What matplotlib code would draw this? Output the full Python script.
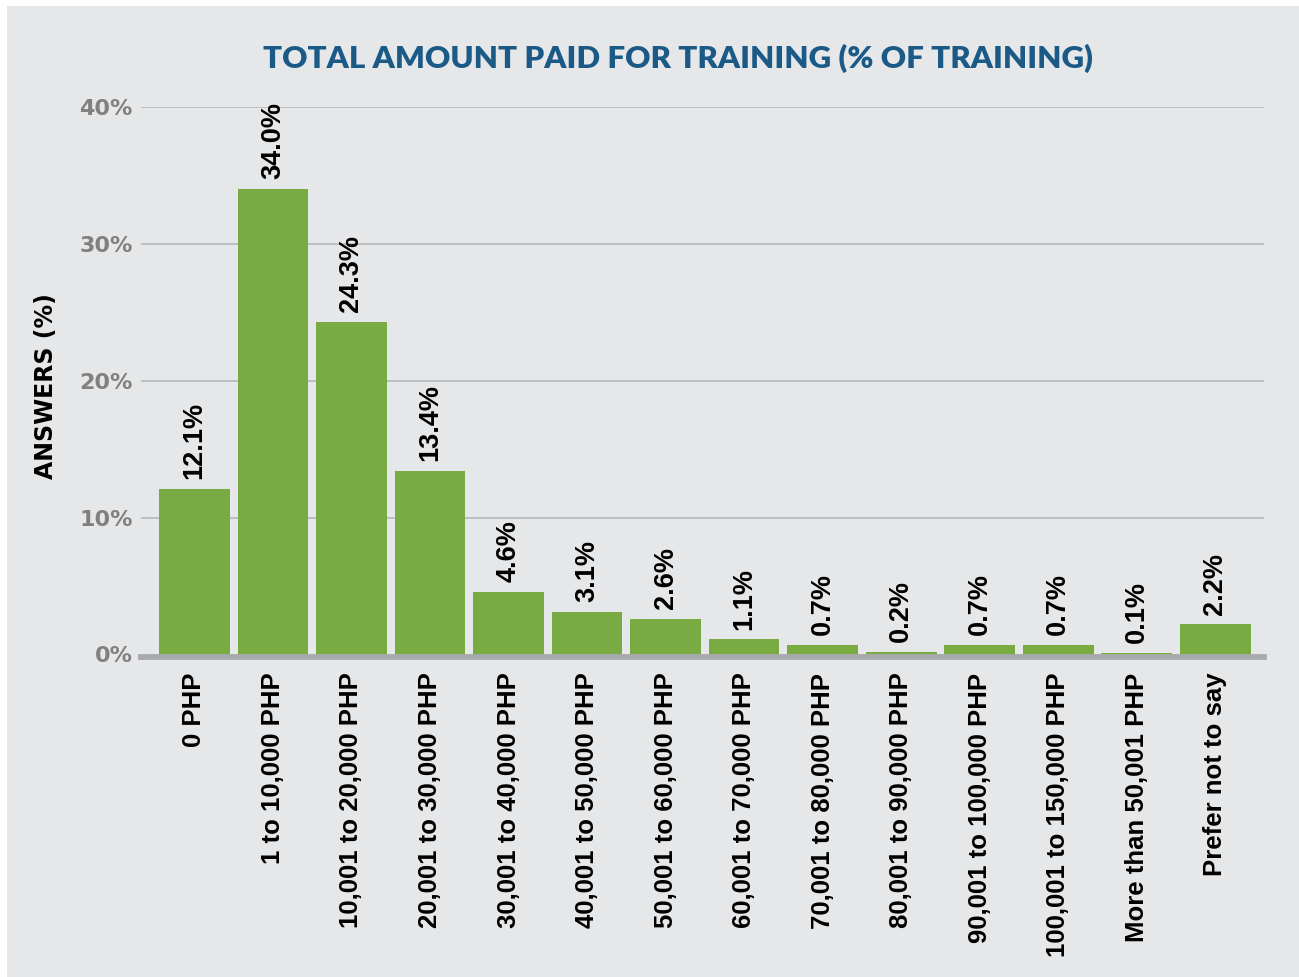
import numpy as np
import matplotlib
matplotlib.use('Agg')
import matplotlib.pyplot as plt
from matplotlib.patches import Rectangle


categories = ['0 PHP', '1 to 10,000 PHP', '10,001 to 20,000 PHP', '20,001 to 30,000 PHP',
              '30,001 to 40,000 PHP', '40,001 to 50,000 PHP', '50,001 to 60,000 PHP',
              '60,001 to 70,000 PHP', '70,001 to 80,000 PHP', '80,001 to 90,000 PHP',
              '90,001 to 100,000 PHP', '100,001 to 150,000 PHP', 'More than 50,001 PHP',
              'Prefer not to say']
values = [12.1, 34.0, 24.3, 13.4, 4.6, 3.1, 2.6, 1.1, 0.7, 0.2, 0.7, 0.7, 0.1, 2.2]
y_ticks = [0, 10, 20, 30, 40]
y_tick_labels = ['0%', '10%', '20%', '30%', '40%']

TITLE = 'TOTAL AMOUNT PAID FOR TRAINING (% OF TRAINING)'
BG = '#e6e7e9'
GREEN = '#7aab43'
GRID = '#b5b6b8'
BLUE = '#1b5a87'

W, H = 1299, 977
Y0, Y40 = 654.5, 107


def make_plot():
    fig = plt.figure(figsize=(W / 100, H / 100), dpi=100, facecolor='white')
    fig.patches.append(Rectangle((7 / W, 0), 1 - 7 / W, 1 - 6 / H, transform=fig.transFigure,
                                 facecolor=BG, edgecolor='none', zorder=-10))

    ax = fig.add_axes([141 / W, (H - Y0) / H, (1264 - 141) / W, (Y0 - Y40) / H])
    ax.set_facecolor('none')
    x = np.arange(len(categories))
    bars = ax.bar(x, values, width=0.9, color=GREEN, zorder=2)
    ax.set_xlim(-0.68, 13.62)
    ax.set_ylim(0, 40)

    for t in y_ticks[1:]:
        ax.axhline(t, color=GRID, linewidth=1.2, zorder=1)
    # baseline sits just under the bars
    ax.axhline(-0.21, color='#a7a9ac', linewidth=4.2, zorder=3, clip_on=False)

    for s in ax.spines.values():
        s.set_visible(False)

    ax.set_yticks(y_ticks)
    ax.set_yticklabels(y_tick_labels, fontfamily='DejaVu Sans', fontweight='bold',
                       fontsize=16, color='#808080')
    ax.tick_params(axis='y', length=0, pad=6)

    ax.set_xticks(x)
    ax.set_xticklabels(categories, rotation=90, fontfamily='Liberation Sans',
                       fontweight='bold', fontsize=18.5, color='black', va='top')
    ax.tick_params(axis='x', length=0, pad=13)

    for rect, v in zip(bars, values):
        ax.annotate(f'{v:.1f}%', (rect.get_x() + rect.get_width() / 2, v),
                    xytext=(0, 7), textcoords='offset points', rotation=90,
                    ha='center', va='bottom', fontfamily='Liberation Sans',
                    fontweight='bold', fontsize=19.5, color='black', clip_on=False)

    fig.text(46 / W, 1 - 386 / H, 'ANSWERS (%)', rotation=90, ha='center', va='center',
             fontfamily='DejaVu Sans', fontweight='bold', fontsize=17, color='black')
    fig.text(678 / W, 1 - 58 / H, TITLE, ha='center', va='center',
             fontfamily='Lato', fontweight='heavy', fontsize=22.5, color=BLUE)

    fig.savefig('out.png', dpi=100, facecolor='white')


if __name__ == '__main__':
    make_plot()
